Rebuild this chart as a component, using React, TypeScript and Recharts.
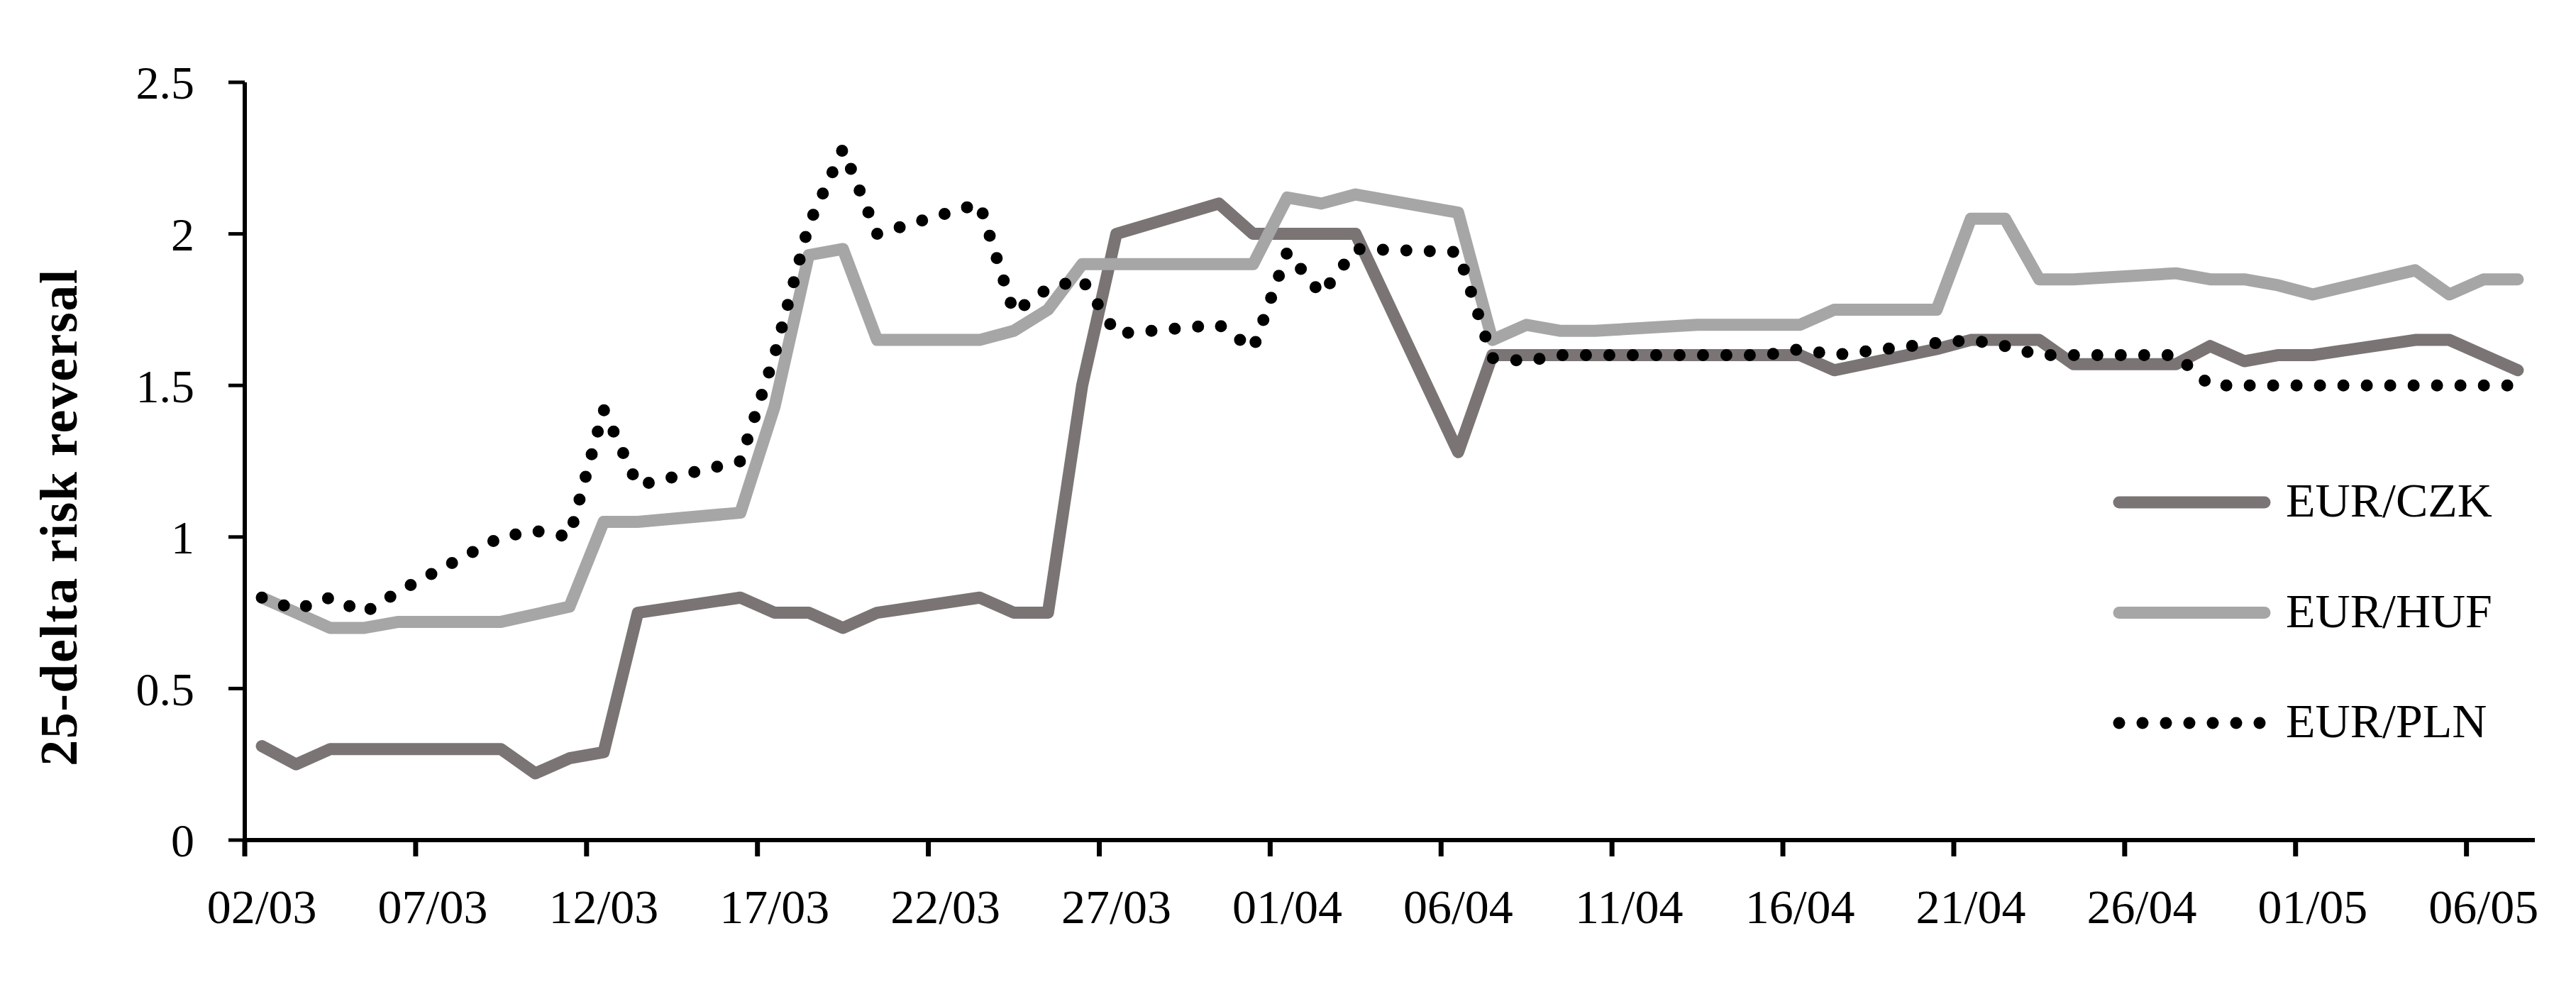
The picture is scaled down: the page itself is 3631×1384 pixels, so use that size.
import { LineChart, Line, XAxis, YAxis, Legend, Label } from "recharts";

const W = 3631;
const H = 1384;
const FONT = "'Liberation Serif', 'Times New Roman', serif";

// trading days, dd/mm (2020)
const dates = [
  "02/03", "03/03", "04/03", "05/03", "06/03",
  "09/03", "10/03", "11/03", "12/03", "13/03",
  "16/03", "17/03", "18/03", "19/03", "20/03",
  "23/03", "24/03", "25/03", "26/03", "27/03",
  "30/03", "31/03", "01/04", "02/04", "03/04",
  "06/04", "07/04", "08/04", "09/04", "10/04",
  "13/04", "14/04", "15/04", "16/04", "17/04",
  "20/04", "21/04", "22/04", "23/04", "24/04",
  "27/04", "28/04", "29/04", "30/04", "01/05",
  "04/05", "05/05", "06/05", "07/05",
];

const czk = [
  0.31, 0.25, 0.3, 0.3, 0.3,
  0.3, 0.22, 0.27, 0.29, 0.75,
  0.8, 0.75, 0.75, 0.7, 0.75,
  0.8, 0.75, 0.75, 1.5, 2.0,
  2.1, 2.0, 2.0, 2.0, 2.0,
  1.28, 1.6, 1.6, 1.6, 1.6,
  1.6, 1.6, 1.6, 1.6, 1.55,
  1.62, 1.65, 1.65, 1.65, 1.57,
  1.57, 1.63, 1.58, 1.6, 1.6,
  1.65, 1.65, 1.6, 1.55,
];

const huf = [
  0.8, 0.75, 0.7, 0.7, 0.72,
  0.72, 0.745, 0.77, 1.05, 1.05,
  1.08, 1.43, 1.93, 1.95, 1.65,
  1.65, 1.68, 1.75, 1.9, 1.9,
  1.9, 1.9, 2.12, 2.1, 2.13,
  2.07, 1.65, 1.7, 1.68, 1.68,
  1.7, 1.7, 1.7, 1.7, 1.75,
  1.75, 2.05, 2.05, 1.85, 1.85,
  1.87, 1.85, 1.85, 1.83, 1.8,
  1.88, 1.8, 1.85, 1.85,
];

const pln = [
  0.8, 0.76, 0.8, 0.75, 0.82,
  1.0, 1.02, 1.0, 1.42, 1.17,
  1.25, 1.6, 2.03, 2.28, 2.0,
  2.1, 1.74, 1.82, 1.85, 1.67,
  1.7, 1.62, 1.94, 1.8, 1.95,
  1.94, 1.59, 1.58, 1.6, 1.6,
  1.6, 1.6, 1.6, 1.62, 1.6,
  1.64, 1.65, 1.63, 1.6, 1.6,
  1.6, 1.5, 1.5, 1.5, 1.5,
  1.5, 1.5, 1.5, 1.5,
];

const xTickLabels = [
  "02/03", "07/03", "12/03", "17/03", "22/03", "27/03", "01/04",
  "06/04", "11/04", "16/04", "21/04", "26/04", "01/05", "06/05",
];
const yTicks = [0, 0.5, 1, 1.5, 2, 2.5];

const series = [
  { key: "czk", name: "EUR/CZK", color: "#7a7474", dash: undefined as string | undefined },
  { key: "huf", name: "EUR/HUF", color: "#a6a6a6", dash: undefined as string | undefined },
  { key: "pln", name: "EUR/PLN", color: "#000000", dash: "0 33" },
];

const START = Date.UTC(2020, 2, 2);
function dayOf(label: string) {
  const [d, m] = label.split("/").map(Number);
  return (Date.UTC(2020, m - 1, d) - START) / 86400000;
}

// Excel date axis: each point sits in the middle of its day
const data = dates.map((d, i) => ({
  t: dayOf(d) + 0.5,
  czk: czk[i],
  huf: huf[i],
  pln: pln[i],
}));
const xTicks = xTickLabels.map(dayOf);
const xMax = dayOf(dates[dates.length - 1]) + 1;

const margin = { top: 116, right: 58, bottom: 0, left: 0 };
const Y_AXIS_W = 345;
const X_AXIS_H = 200;
const DAY_PX = (W - margin.left - margin.right - Y_AXIS_W) / xMax;

function XTick({ x, y, payload }: any) {
  const label = xTickLabels[xTicks.indexOf(payload.value)];
  return (
    <text
      x={x + DAY_PX / 2}
      y={y}
      dy="0.71em"
      textAnchor="middle"
      fontSize={68}
      fontFamily={FONT}
      fill="#000"
    >
      {label}
    </text>
  );
}

function YTitle() {
  return (
    <text
      x={108}
      y={729}
      transform="rotate(-90 108 729)"
      textAnchor="middle"
      fontSize={74}
      fontWeight="bold"
      letterSpacing={1.5}
      fontFamily={FONT}
      fill="#000"
    >
      25-delta risk reversal
    </text>
  );
}

function LegendBox() {
  return (
    <svg width={620} height={420}>
      {series.map((s, i) => {
        const cy = 68 + i * 155.5;
        return (
          <g key={s.key}>
            <line
              x1={27}
              x2={232}
              y1={cy}
              y2={cy}
              stroke={s.color}
              strokeWidth={17}
              strokeLinecap="round"
              strokeDasharray={s.dash}
            />
            <text x={262} y={cy + 20} fontSize={68} fontFamily={FONT} fill="#000">
              {s.name}
            </text>
          </g>
        );
      })}
    </svg>
  );
}

export default function App() {
  return (
    <div style={{ position: "relative", width: W, height: H, background: "#fff" }}>
      <style>{"body{margin:0;background:#fff}"}</style>
      <LineChart width={W} height={H} data={data} margin={margin}>
        <XAxis
          dataKey="t"
          type="number"
          domain={[0, xMax]}
          ticks={xTicks}
          interval={0}
          height={X_AXIS_H}
          tickSize={23}
          tickMargin={46}
          axisLine={{ stroke: "#000", strokeWidth: 6 }}
          tickLine={{ stroke: "#000", strokeWidth: 7 }}
          tick={<XTick />}
        />
        <YAxis
          type="number"
          domain={[0, 2.5]}
          ticks={yTicks}
          interval={0}
          width={Y_AXIS_W}
          tickSize={23}
          tickMargin={48}
          axisLine={{ stroke: "#000", strokeWidth: 6 }}
          tickLine={{ stroke: "#000", strokeWidth: 5 }}
          tick={{ fill: "#000", fontSize: 66, fontFamily: FONT }}
          tickFormatter={(v) => String(v)}
        >
          <Label content={<YTitle />} />
        </YAxis>
        {series.map((s) => (
          <Line
            key={s.key}
            type="linear"
            dataKey={s.key}
            name={s.name}
            stroke={s.color}
            strokeWidth={17}
            strokeDasharray={s.dash}
            strokeLinecap="round"
            strokeLinejoin="round"
            dot={false}
            activeDot={false}
            isAnimationActive={false}
          />
        ))}
        <Legend
          layout="horizontal"
          align="center"
          verticalAlign="middle"
          wrapperStyle={{ position: "absolute", left: 2960, top: 640, width: 620, height: 420 }}
          content={() => <LegendBox />}
        />
      </LineChart>
    </div>
  );
}
